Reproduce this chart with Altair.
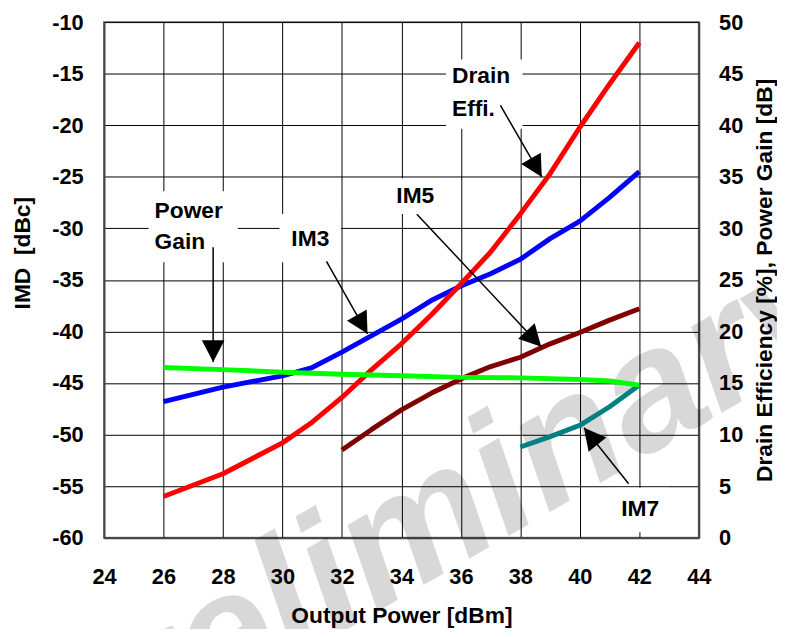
import math
import altair as alt
import pandas as pd

FONT = "Liberation Sans"
W, H = 601, 521

# ---------------- data ----------------
pout_im3 = [26, 28, 30, 31, 32, 33, 34, 35, 36, 37, 38, 39, 40, 41, 42]
im3 = [-46.8, -45.4, -44.3, -43.5, -42.0, -40.4, -38.8, -37.0, -35.6, -34.4, -33.0, -31.0, -29.3, -27.0, -24.5]
pout_im5 = [32, 33, 34, 35, 36, 37, 38, 39, 40, 41, 42]
im5 = [-51.5, -49.5, -47.6, -46.0, -44.6, -43.4, -42.5, -41.2, -40.1, -38.9, -37.8]
pout_im7 = [38, 39, 40, 41, 42]
im7 = [-51.2, -50.2, -49.1, -47.3, -45.2]
pout_de = [26, 28, 30, 31, 32, 33, 34, 35, 36, 37, 38, 39, 40, 41, 42]
drain_eff = [4.0, 6.2, 9.2, 11.2, 13.6, 16.3, 18.8, 21.6, 24.6, 27.7, 31.4, 35.3, 39.8, 44.0, 48.0]
pout_gain = [26, 28, 30, 32, 34, 36, 38, 40, 41, 42]
gain = [16.5, 16.3, 16.05, 15.85, 15.7, 15.55, 15.5, 15.35, 15.2, 14.8]

x_ticks = list(range(24, 45, 2))
imd_ticks = list(range(-60, -9, 5))
right_ticks = list(range(0, 51, 5))

label_text = ["Power", "Gain", "IM3", "IM5", "Drain", "Effi.", "IM7"]
label_x = [25.7, 25.7, 30.3, 33.83, 35.7, 35.7, 41.39]
label_y = [-28.3, -31.35, -31.0, -26.87, -15.2, -18.4, -57.24]

box_x = [25.5, 29.9, 33.33, 35.5, 41.0]
box_x2 = [28.5, 31.97, 35.5, 38.07, 43.0]
box_y = [-26.4, -28.6, -25.15, -13.64, -55.16]
box_y2 = [-33.3, -33.3, -28.6, -20.35, -59.47]

arrow_x = [27.67, 31.48, 34.52, 37.33, 41.64]
arrow_y = [-31.83, -33.2, -28.63, -18.08, -54.77]
arrow_x2 = [27.67, 32.86, 38.7, 38.72, 40.14]
arrow_y2 = [-42.95, -40.23, -41.48, -25.02, -49.34]

watermark_text = ["Preliminary"]
watermark_x = [35.0]
watermark_y = [-58.4]

# ---------------- tables ----------------
px_x = W / 20.0
px_y = H / 50.0
angles = []
for a, b, c, d in zip(arrow_x, arrow_y, arrow_x2, arrow_y2):
    dx = (c - a) * px_x
    dy = -(d - b) * px_y
    ang = math.degrees(math.atan2(dx, -dy)) % 360
    angles.append(ang)

arrows = pd.DataFrame({"x": arrow_x, "y": arrow_y, "x2": arrow_x2, "y2": arrow_y2, "angle": angles})
labels = pd.DataFrame({"text": label_text, "x": label_x, "y": label_y})
boxes = pd.DataFrame({"x": box_x, "x2": box_x2, "y": box_y, "y2": box_y2})
wm = pd.DataFrame({"text": watermark_text, "x": watermark_x, "y": watermark_y})

d_im3 = pd.DataFrame({"x": pout_im3, "y": im3})
d_im5 = pd.DataFrame({"x": pout_im5, "y": im5})
d_im7 = pd.DataFrame({"x": pout_im7, "y": im7})
d_de = pd.DataFrame({"x": pout_de, "y": drain_eff})
d_gain = pd.DataFrame({"x": pout_gain, "y": gain})

xscale = alt.Scale(domain=[24, 44], nice=False, zero=False)
xaxis = alt.Axis(values=x_ticks, title="Output Power [dBm]", grid=True, labelFlush=False,
                 labelPadding=29, titleY=79, titleBaseline="middle")
lscale = alt.Scale(domain=[-60, -10], nice=False, zero=False)
laxis = alt.Axis(values=imd_ticks, title="IMD\u00a0\u00a0[dBc]", grid=True, orient="left",
                 labelFlush=False, labelExpr="'' + datum.value",
                 labelPadding=21, titleAngle=270, titleX=-82, titleY=233,
                 titleBaseline="middle", titleAlign="center")
rscale = alt.Scale(domain=[0, 50], nice=False, zero=False)
raxis = alt.Axis(values=right_ticks, title="Drain Efficiency [%], Power Gain [dB]",
                 grid=False, orient="right", labelPadding=20, titleAngle=270, labelFlush=False,
                 titleX=66, titleBaseline="middle", titleAlign="center")


def X(field="x"):
    return alt.X(f"{field}:Q", scale=xscale, axis=xaxis)


def YL(field="y"):
    return alt.Y(f"{field}:Q", scale=lscale, axis=laxis)


def YA(field="y"):
    return alt.Y(f"{field}:Q", scale=lscale, axis=None)


watermark = alt.Chart(wm).mark_text(
    font=FONT, fontSize=172, fontStyle="italic", fontWeight="bold",
    angle=330, color="black", opacity=0.15, align="center", baseline="middle"
).encode(x=X(), y=YL(), text="text:N")

box_layer = alt.Chart(boxes).mark_rect(color="white", opacity=1).encode(
    x=X(), x2="x2:Q", y=YL(), y2="y2:Q")


def line(df, color, yenc):
    return alt.Chart(df).mark_line(color=color, strokeWidth=5, strokeCap="butt",
                                   strokeJoin="round").encode(x=X(), y=yenc)


left = alt.layer(
    watermark, box_layer,
    line(d_im3, "#0000ff", YL()),
    line(d_im5, "#800000", YL()),
    line(d_im7, "#008080", YL()),
)

right = alt.layer(
    line(d_de, "#ff0000", alt.Y("y:Q", scale=rscale, axis=raxis)),
    line(d_gain, "#00ff00", alt.Y("y:Q", scale=rscale, axis=raxis)),
)

arrow_lines = alt.Chart(arrows).mark_rule(color="black", strokeWidth=1.5).encode(
    x=X(), y=YA(), x2="x2:Q", y2="y2:Q")
heads = alt.Chart(arrows).mark_point(
    shape="M0,0L-0.525,1L0.525,1Z", filled=True, color="black", opacity=1, size=1900
).encode(x=X("x2"), y=YA("y2"), angle=alt.Angle("angle:Q", scale=None))
texts = alt.Chart(labels).mark_text(
    font=FONT, fontSize=23, fontWeight="bold", color="black", align="left", baseline="middle"
).encode(x=X(), y=YA(), text="text:N")

annot = alt.layer(arrow_lines, heads, texts)

chart = alt.layer(left, right, annot).resolve_scale(y="independent").properties(
    width=W, height=H,
    padding={"left": 97, "top": 11, "right": 79, "bottom": 89},
    autosize=alt.AutoSizeParams(type="none"),
    background="white",
).configure_axis(
    labelFont=FONT, titleFont=FONT, labelFontWeight="bold", titleFontWeight="bold",
    labelFontSize=22, titleFontSize=23, labelColor="black", titleColor="black",
    ticks=False, gridColor="black", gridWidth=1, gridOpacity=1,
    domainColor="#444", domainWidth=2,
).configure_view(stroke="#888", strokeWidth=2)

chart.save("out.html", embed_options={"renderer": "svg", "actions": False})
